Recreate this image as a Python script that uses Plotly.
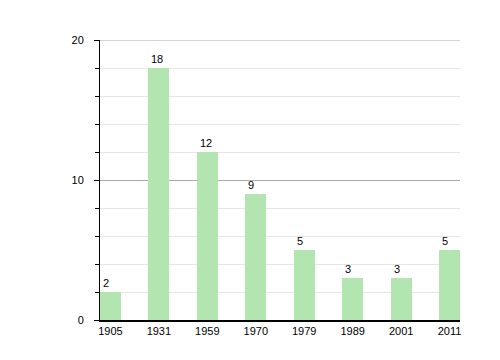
import plotly.graph_objects as go

years = ["1905", "1931", "1959", "1970", "1979", "1989", "2001", "2011"]
values = [2, 18, 12, 9, 5, 3, 3, 5]

bar_w = 0.43
xs = list(range(len(years)))

fig = go.Figure()
fig.add_trace(go.Bar(
    x=xs, y=values, width=bar_w,
    marker=dict(color="#b3e5b0", line=dict(width=0)),
    hoverinfo="skip",
))

for x, v in zip(xs, values):
    fig.add_annotation(
        x=x - bar_w / 2, y=v, text=str(v), showarrow=False,
        xanchor="left", yanchor="bottom", xshift=1, yshift=1,
        font=dict(family="Liberation Sans, Arial, sans-serif", size=11, color="#000"),
    )

# top gridline at the upper range limit
fig.add_shape(type="line", xref="paper", x0=0, x1=1, yref="y", y0=20, y1=20,
              line=dict(color="#aaaaaa", width=1.2), layer="below")

fig.update_layout(
    width=500, height=360,
    margin=dict(l=92, r=48, t=32, b=48),
    paper_bgcolor="white", plot_bgcolor="white",
    showlegend=False,
    bargap=0,
    font=dict(family="Liberation Sans, Arial, sans-serif", size=11, color="#000"),
    xaxis=dict(
        range=[-bar_w / 2, len(years) - 1 + bar_w / 2],
        tickmode="array", tickvals=xs, ticktext=years,
        showgrid=False, zeroline=False,
        showline=True, linecolor="#000", linewidth=1.5,
        ticks="", fixedrange=True,
    ),
    yaxis=dict(
        range=[0, 20],
        tickmode="array", tickvals=[0, 10, 20],
        showgrid=True, gridcolor="#aaaaaa", gridwidth=1.2,
        zeroline=False,
        showline=True, linecolor="#000", linewidth=1,
        ticks="outside", ticklen=5, tickcolor="#000", tickwidth=1,
        ticklabelstandoff=8,
        minor=dict(tickvals=[2, 4, 6, 8, 12, 14, 16, 18], showgrid=True,
                   gridcolor="#e6e6e6", gridwidth=1,
                   ticks="outside", ticklen=4, tickcolor="#000"),
        fixedrange=True,
    ),
)

fig.write_html("out.html")
